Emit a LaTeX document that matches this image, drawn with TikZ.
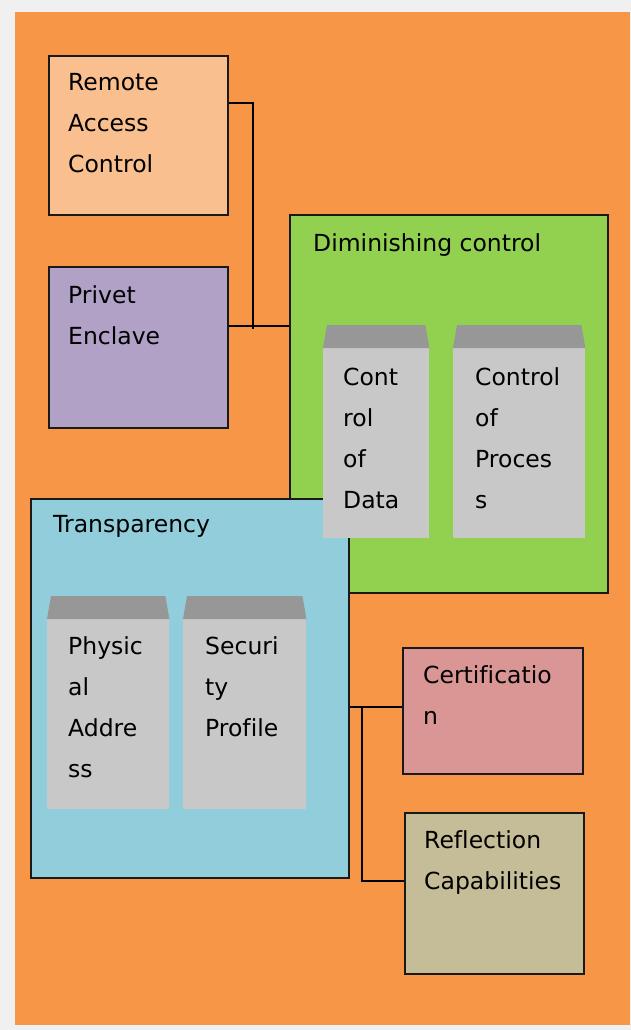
\documentclass[tikz,border=0pt]{standalone}
\usepackage{fontspec}
\setmainfont[Ligatures=NoCommon]{DejaVu Sans}
\usetikzlibrary{calc}
\definecolor{bgcol}{HTML}{F0F0F0}
\definecolor{orangebg}{HTML}{F79646}
\definecolor{racfill}{HTML}{F9BF8F}
\definecolor{pefill}{HTML}{B2A1C7}
\definecolor{dcfill}{HTML}{92D050}
\definecolor{trfill}{HTML}{92CDDC}
\definecolor{certfill}{HTML}{DA9694}
\definecolor{reflfill}{HTML}{C4BD97}
\definecolor{cardbody}{HTML}{C8C8C8}
\definecolor{cardtop}{HTML}{979797}
\begin{document}
\begin{tikzpicture}[x=1pt,y=-1pt,
  box/.style={draw=black!90, line width=2pt, rectangle, inner sep=0pt, anchor=north west},
  lbl/.style={anchor=north west, inner sep=0pt, align=left, font=\fontsize{23.5}{41}\selectfont},
  card/.style={fill=cardbody, rectangle, inner sep=0pt, anchor=north west},
  wire/.style={draw=black, line width=1.8pt}]
\useasboundingbox (0,0) rectangle (631,1030);
\fill[bgcol] (0,0) rectangle (631,1030);
\fill[orangebg] (15,12) rectangle (630,1025);
% boxes
\node[box, fill=racfill, minimum width=179pt, minimum height=159pt] (rac) at (48,55) {};
\node[box, fill=pefill, minimum width=179pt, minimum height=161pt] (pe) at (48,266) {};
\node[box, fill=dcfill, minimum width=318pt, minimum height=378pt] (dc) at (289,214) {};
\node[box, fill=trfill, minimum width=318pt, minimum height=379pt] (tr) at (30,498) {};
\node[box, fill=certfill, minimum width=180pt, minimum height=126pt] (cert) at (402,647) {};
\node[box, fill=reflfill, minimum width=179pt, minimum height=161pt] (refl) at (404,812) {};
% cards
\node[card, minimum width=106pt, minimum height=190pt] (cd) at (323,348) {};
\node[card, minimum width=132pt, minimum height=190pt] (cp) at (453,348) {};
\node[card, minimum width=122pt, minimum height=190pt] (pa) at (47,619) {};
\node[card, minimum width=123pt, minimum height=190pt] (sp) at (183,619) {};
\foreach \c in {cd,cp,pa,sp}{
  \fill[cardtop] (\c.north west) -- ($(\c.north west)+(4,-23)$) -- ($(\c.north east)+(-4,-23)$) -- (\c.north east) -- cycle;
}
% labels
\node[lbl] (racT) at (68,70) {\rule{0pt}{20pt}Remote\\Access\\Control};
\node[lbl] (peT) at (68,283) {\rule{0pt}{20pt}Privet\\Enclave};
\node[lbl] (dcT) at (313,231) {\rule{0pt}{20pt}Diminishing control};
\node[lbl] (cdT) at (343,365) {\rule{0pt}{20pt}Cont\\rol\\of\\Data};
\node[lbl] (cpT) at (475,365) {\rule{0pt}{20pt}Control\\of\\Proces\\s};
\node[lbl] (trT) at (53,512) {\rule{0pt}{20pt}Transparency};
\node[lbl] (paT) at (68,634) {\rule{0pt}{20pt}Physic\\al\\Addre\\ss};
\node[lbl] (spT) at (205,634) {\rule{0pt}{20pt}Securi\\ty\\Profile};
\node[lbl] (certT) at (423,663) {\rule{0pt}{20pt}Certificatio\\n};
\node[lbl] (reflT) at (424,828) {\rule{0pt}{20pt}Reflection\\Capabilities};
% connectors
\coordinate (j1) at (253,329);
\draw[wire] ([yshift=32.5pt]rac.east) -| (j1);
\draw[wire] ([yshift=21.5pt]pe.east) -- ([yshift=21.5pt]pe.east -| dc.west);
\coordinate (j2) at (362,706);
\draw[wire] ([yshift=-18.5pt]tr.east) -- ([yshift=-18.5pt]tr.east -| cert.west);
\draw[wire] (j2) |- ([yshift=12.5pt]refl.west);
\end{tikzpicture}
\end{document}
